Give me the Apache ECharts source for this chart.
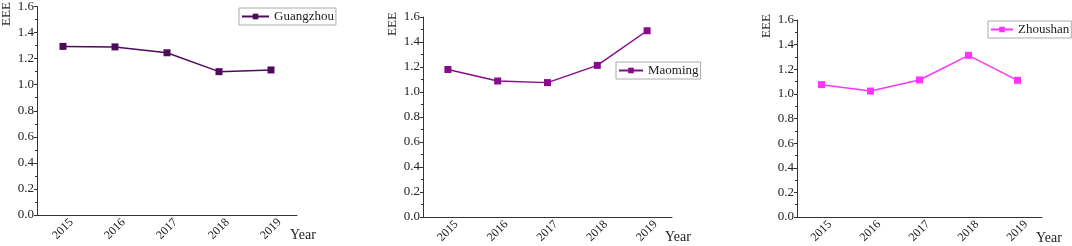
<!DOCTYPE html>
<html>
<head>
<meta charset="utf-8">
<script src="https://cdn.jsdelivr.net/npm/echarts@6/dist/echarts.min.js"></script>
<style>
  html, body { margin: 0; padding: 0; background: #fff; }
  #chart { width: 1072px; height: 246px; }
</style>
</head>
<body>
<div id="chart"></div>
<script>
const years = ["2015", "2016", "2017", "2018", "2019"];
const guangzhou = [1.294, 1.290, 1.245, 1.100, 1.113];
const maoming = [1.180, 1.088, 1.075, 1.213, 1.490];
const zhoushan = [1.075, 1.023, 1.113, 1.313, 1.110];
const cities = ["Guangzhou", "Maoming", "Zhoushan"];
const colors = ["#4f0a5c", "#8a0a8c", "#ff33ff"];

const font = "Liberation Serif";
const axisColor = "#333";

const grids = [
    { left: 37, top: 6, width: 260, height: 209 },
    { left: 423, top: 17, width: 249, height: 200 },
    { left: 797, top: 20, width: 245, height: 197 }
];
const legendPos = [
    { left: 239, top: 8, iconW: 27 },
    { left: 616, top: 62, iconW: 24 },
    { left: 988, top: 21, iconW: 22 }
];
const namePos = [
    { eee: [7, 14], year: [290, 235] },
    { eee: [393, 24], year: [665, 237] },
    { eee: [767, 26], year: [1036, 238] }
];
const seriesData = [guangzhou, maoming, zhoushan];

const chart = echarts.init(document.getElementById("chart"));

const xAxes = grids.map((g, i) => ({
    type: "category",
    gridIndex: i,
    data: years,
    boundaryGap: true,
    axisLine: { lineStyle: { color: axisColor, width: 1 } },
    axisTick: { alignWithLabel: true, length: 3, lineStyle: { color: axisColor } },
    axisLabel: {
        rotate: 45, fontFamily: font, fontSize: 12, color: "#222", margin: 14,
        align: "center", verticalAlign: "middle"
    }
}));

const yAxes = grids.map((g, i) => ({
    type: "value",
    gridIndex: i,
    min: 0,
    max: 1.6,
    interval: 0.2,
    splitLine: { show: false },
    axisLine: { show: true, lineStyle: { color: axisColor, width: 1 } },
    axisTick: { show: true, length: 3, lineStyle: { color: axisColor } },
    minorTick: { show: true, splitNumber: 2, length: 2, lineStyle: { color: axisColor } },
    axisLabel: {
        fontFamily: font, fontSize: 13, color: "#222", margin: 3,
        formatter: v => v.toFixed(1)
    }
}));

const series = cities.map((name, i) => ({
    name,
    type: "line",
    xAxisIndex: i,
    yAxisIndex: i,
    data: seriesData[i],
    symbol: "rect",
    symbolSize: 7,
    color: colors[i],
    lineStyle: { width: 1.5, color: colors[i] },
    itemStyle: { color: colors[i] }
}));

const legends = cities.map((name, i) => ({
    data: [name],
    left: legendPos[i].left,
    top: legendPos[i].top,
    orient: "horizontal",
    borderColor: "#aaa",
    borderWidth: 1,
    borderRadius: 0,
    padding: [1, 2, 1, 2],
    itemWidth: legendPos[i].iconW,
    itemHeight: 7,
    textStyle: { fontFamily: font, fontSize: 13, color: "#222", lineHeight: 15 }
}));

const graphic = [];
namePos.forEach(p => {
    graphic.push({
        type: "text",
        x: p.eee[0],
        y: p.eee[1],
        rotation: Math.PI / 2,
        style: {
            text: "EEE", fontFamily: font, fontSize: 13, fill: "#222",
            align: "center", verticalAlign: "middle"
        }
    });
    graphic.push({
        type: "text",
        x: p.year[0],
        y: p.year[1],
        style: {
            text: "Year", fontFamily: font, fontSize: 14, fill: "#222",
            align: "left", verticalAlign: "middle"
        }
    });
});

chart.setOption({
    animation: false,
    grid: grids,
    xAxis: xAxes,
    yAxis: yAxes,
    legend: legends,
    series,
    graphic
});
</script>
</body>
</html>
